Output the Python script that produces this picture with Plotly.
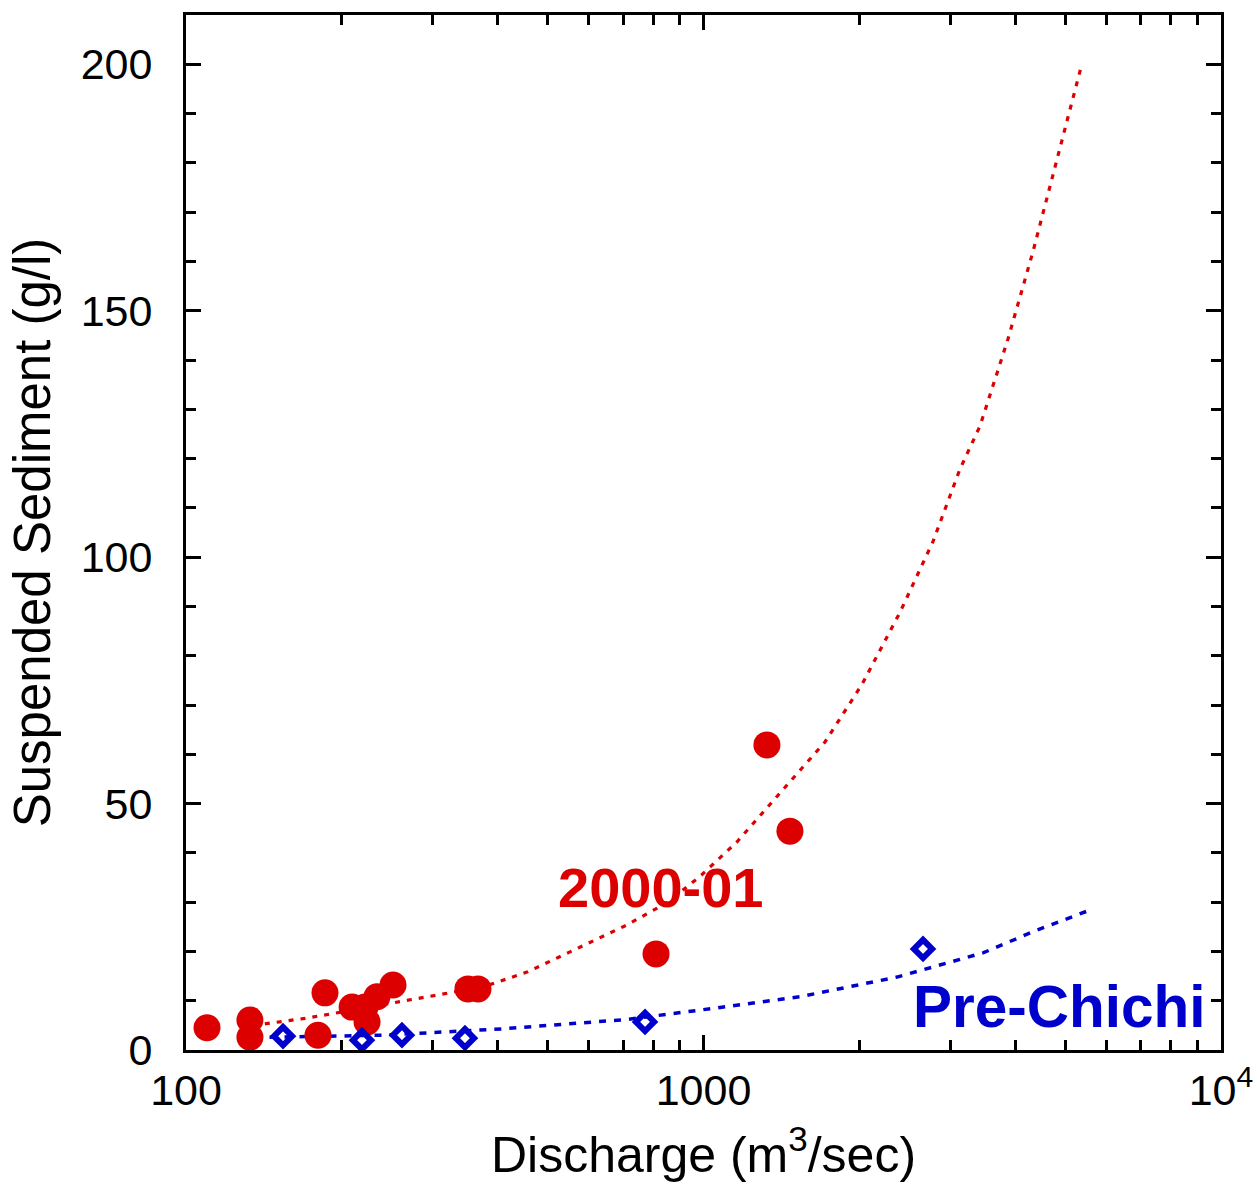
import plotly.graph_objects as go

# ---- data ----
red_q = [109.8, 132.9, 132.9, 179.9, 185.6, 209.4, 221.8, 223.8, 233.9, 251.2, 350.6, 366.6, 809.6, 1326, 1469]
red_s = [4.5, 6.1, 2.6, 3.0, 11.6, 8.7, 8.7, 5.7, 10.8, 13.2, 12.4, 12.4, 19.5, 61.9, 44.4]

blue_q = [154, 218.8, 261.4, 346, 771, 2656]
blue_s = [2.8, 2.0, 3.0, 2.4, 5.7, 20.5]

red_fit_q = [142, 172, 375, 456, 547, 712, 850, 984, 1160, 1717, 2025, 2397, 2777, 3131, 3422, 3877, 4332, 4778, 5364]
red_fit_s = [5.3, 6.5, 12.8, 15.8, 19.7, 25.4, 29.9, 35.2, 42.2, 62.5, 74.2, 88.8, 103.2, 117.9, 126.6, 144.3, 162.0, 179.3, 199.4]

blue_fit_q = [145, 240, 410, 712, 984, 1537, 2365, 3468, 4331, 5584]
blue_fit_s = [2.6, 3.0, 4.3, 6.2, 8.1, 10.8, 14.8, 19.7, 24.0, 28.4]

x_tickvals = [100, 1000, 10000]
x_ticktext = ["100", "1000", "10<sup>4</sup>"]
x_minor = [200, 300, 400, 500, 600, 700, 800, 900, 2000, 3000, 4000, 5000, 6000, 7000, 8000, 9000]
y_tickvals = [0, 50, 100, 150, 200]

RED = "#DD0000"
BLUE = "#0000CC"
FONT = "Arial, Liberation Sans, Helvetica, sans-serif"

fig = go.Figure()

fig.add_trace(go.Scatter(x=red_fit_q, y=red_fit_s, mode="lines",
                         line=dict(color=RED, width=3.2, dash="5px,7px"),
                         showlegend=False, hoverinfo="skip"))
fig.add_trace(go.Scatter(x=blue_fit_q, y=blue_fit_s, mode="lines",
                         line=dict(color=BLUE, width=3.5, dash="7px,8px"),
                         showlegend=False, hoverinfo="skip"))
fig.add_trace(go.Scatter(x=red_q, y=red_s, mode="markers",
                         marker=dict(symbol="circle", size=27, color=RED,
                                     line=dict(width=0)),
                         showlegend=False))
fig.add_trace(go.Scatter(x=blue_q, y=blue_s, mode="markers",
                         marker=dict(symbol="diamond-open", size=14, color=BLUE,
                                     line=dict(width=6, color=BLUE)),
                         showlegend=False))

fig.add_annotation(x=2.918, y=32.9, xref="x", yref="y", text="<b>2000-01</b>",
                   showarrow=False, font=dict(family=FONT, size=56, color=RED))
fig.add_annotation(x=3.688, y=8.9, xref="x", yref="y", text="<b>Pre-Chichi</b>",
                   showarrow=False, font=dict(family=FONT, size=58.5, color=BLUE))

axis_common = dict(
    showline=True, linewidth=3, linecolor="black", mirror="ticks",
    ticks="inside", ticklen=15, tickwidth=2.5, tickcolor="black",
    showgrid=False, zeroline=False, automargin=False,
    tickfont=dict(family=FONT, size=43, color="black"),
)

fig.update_xaxes(
    type="log", range=[2, 4],
    tickmode="array", tickvals=x_tickvals, ticktext=x_ticktext,
    minor=dict(tickmode="array", tickvals=x_minor, ticks="inside",
               ticklen=10, tickwidth=2.5, tickcolor="black", showgrid=False),
    title=dict(text="Discharge (m<sup>3</sup>/sec)", standoff=25,
               font=dict(family=FONT, size=50, color="black")),
    ticklabelstandoff=0,
    **axis_common,
)
fig.update_yaxes(
    range=[0, 210],
    tickmode="array", tickvals=y_tickvals,
    minor=dict(tick0=0, dtick=10, ticks="inside",
               ticklen=10, tickwidth=2.5, tickcolor="black", showgrid=False),
    title=dict(text="Suspended Sediment (g/l)", standoff=14,
               font=dict(family=FONT, size=51, color="black")),
    ticklabelstandoff=22,
    **axis_common,
)

fig.update_layout(
    width=1257, height=1191, autosize=False,
    margin=dict(l=186, r=36, t=15, b=141, pad=0),
    plot_bgcolor="white", paper_bgcolor="white",
    showlegend=False,
)

fig.write_html("out.html")
